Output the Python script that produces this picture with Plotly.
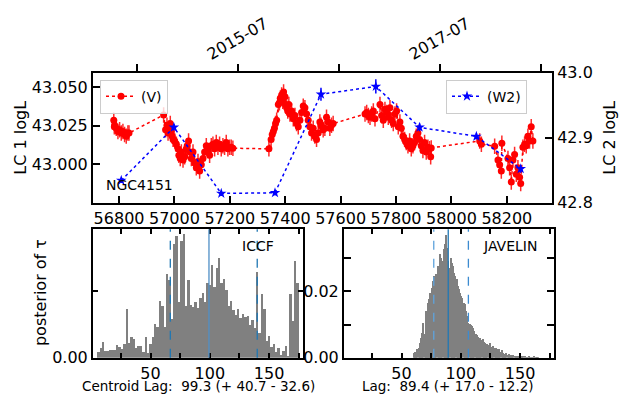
import plotly.graph_objects as go

# ---------------- data ----------------
v_mjd = [56781, 56783, 56784, 56790, 56796, 56802, 56808, 56814, 56820, 56826, 56832, 56836,
         56961, 56968, 56973, 56977, 56980, 56985, 56989, 56992, 56995, 57001, 57007, 57013, 57016, 57021,
         57025, 57031, 57037, 57043, 57046, 57051, 57055, 57061, 57067, 57073, 57079, 57085, 57091, 57097,
         57103, 57109, 57115, 57121, 57127, 57133, 57139, 57145, 57151, 57157, 57163, 57169, 57175, 57181,
         57187, 57193, 57199, 57205, 57211,
         57341, 57349, 57353, 57357, 57361, 57365, 57369, 57375, 57379, 57382, 57387, 57391, 57394, 57399,
         57401, 57405, 57409, 57413, 57417, 57423, 57429, 57435, 57441, 57447, 57453, 57459, 57465, 57471,
         57477, 57483, 57489, 57495, 57501, 57507, 57513, 57519, 57525, 57529, 57537, 57543, 57549, 57555,
         57561, 57567, 57573,
         57688, 57694, 57700, 57706, 57712, 57718, 57724, 57742, 57748, 57754, 57760, 57766, 57772, 57778,
         57784, 57790, 57796, 57802, 57808, 57814, 57819, 57825, 57831, 57837, 57843, 57849, 57855, 57861,
         57867, 57873, 57879, 57885, 57891, 57897, 57903, 57909, 57915, 57921, 57925, 57927,
         58102, 58108, 58156, 58168, 58174, 58180, 58182, 58204, 58210, 58216, 58222, 58228, 58234, 58240,
         58246, 58250, 58258, 58264, 58270, 58276, 58282, 58288, 58294]
v_logl = [43.0285, 43.0244, 43.0254, 43.0234, 43.0213, 43.0224, 43.0203, 43.0213, 43.0193, 43.0183, 43.0203, 43.0203,
          43.0320, 43.0224, 43.0254, 43.0203, 43.0234, 43.0264, 43.0213, 43.0183, 43.0162, 43.0152, 43.0131, 43.0101,
          43.0060, 43.0039, 43.0080, 43.0029, 43.0050, 43.0101, 43.0121, 43.0152, 43.0080, 43.0039, 43.0080, 43.0009,
          42.9978, 43.0019, 42.9957, 42.9998, 43.0039, 43.0080, 43.0121, 43.0090, 43.0060, 43.0121, 43.0131, 43.0101,
          43.0142, 43.0111, 43.0131, 43.0101, 43.0121, 43.0111, 43.0142, 43.0101, 43.0111, 43.0111, 43.0105,
          43.0101, 43.0162, 43.0193, 43.0213, 43.0234, 43.0264, 43.0285, 43.0387, 43.0398, 43.0428, 43.0449, 43.0408,
          43.0469, 43.0438, 43.0387, 43.0367, 43.0346, 43.0387, 43.0326, 43.0346, 43.0295, 43.0316, 43.0264, 43.0244,
          43.0285, 43.0336, 43.0377, 43.0367, 43.0326, 43.0285, 43.0244, 43.0203, 43.0234, 43.0183, 43.0162, 43.0203,
          43.0275, 43.0254, 43.0224, 43.0234, 43.0305, 43.0275, 43.0234, 43.0254, 43.0264,
          43.0326, 43.0336, 43.0316, 43.0305, 43.0326, 43.0346, 43.0295, 43.0387, 43.0316, 43.0285, 43.0356, 43.0336,
          43.0305, 43.0367, 43.0285, 43.0264, 43.0326, 43.0346, 43.0244, 43.0275, 43.0234, 43.0183, 43.0162, 43.0142,
          43.0121, 43.0152, 43.0101, 43.0121, 43.0142, 43.0183, 43.0203, 43.0162, 43.0121, 43.0090, 43.0142, 43.0080,
          43.0111, 43.0101, 43.0050, 43.0107,
          43.0152, 43.0131, 43.0117, 43.0029, 42.9998, 42.9957, 43.0137, 43.0039, 42.9978, 42.9886, 43.0029, 43.0064,
          42.9937, 42.9978, 42.9917, 42.9876, 43.0111, 43.0131, 43.0121, 43.0183, 43.0152, 43.0244, 43.0152]
v_err = 0.005

w2_mjd = [56808, 56998, 57169, 57363, 57529, 57727, 57885, 58090, 58250]
w2_logl = [42.834, 42.916, 42.814, 42.815, 42.967, 42.979, 42.916, 42.902, 42.852]
w2_err = [0.004, 0.005, 0.004, 0.004, 0.010, 0.011, 0.006, 0.005, 0.006]

mjd_ticks = [56800, 57000, 57200, 57400, 57600, 57800, 58000, 58200]
date_tick_mjd = [56866, 57229, 57594, 57958, 58322]
date_tick_labels = ["", "2015-07", "", "2017-07", ""]
lc1_ticks = [43.000, 43.025, 43.050]
lc2_ticks = [42.8, 42.9, 43.0]

iccf_bin_start = 5.0
iccf_bin_width = 2.0
iccf_density = [0.0018, 0.0030, 0.0046, 0.0020, 0.0020, 0.0023, 0.0023, 0.0023, 0.0037, 0.0032,
                0.0025, 0.0042, 0.0147, 0.0044, 0.0061, 0.0056, 0.0028, 0.0034, 0.0034, 0.0018,
                0.0063, 0.0013, 0.0040, 0.0063, 0.0102, 0.0091, 0.0170, 0.0156, 0.0091, 0.0251,
                0.0232, 0.0116, 0.0342, 0.0364, 0.0166, 0.0351, 0.0370, 0.0156, 0.0234, 0.0158,
                0.0151, 0.0166, 0.0149, 0.0180, 0.0194, 0.0166, 0.0223, 0.0218, 0.0278, 0.0213,
                0.0269, 0.0299, 0.0223, 0.0237, 0.0204, 0.0156, 0.0170, 0.0142, 0.0128, 0.0147,
                0.0118, 0.0132, 0.0123, 0.0126, 0.0099, 0.0113, 0.0090, 0.0256, 0.0075, 0.0190,
                0.0147, 0.0051, 0.0066, 0.0032, 0.0042, 0.0018, 0.0030, 0.0009, 0.0020, 0.0036,
                0.0006, 0.0190, 0.0109, 0.0290, 0.0223]

jav_bin_start = 60.0
jav_bin_width = 1.0
jav_density = [0.0015, 0.0018, 0.0012, 0.0025, 0.0030, 0.0045, 0.0060, 0.0075, 0.0105, 0.0070,
               0.0140, 0.0120, 0.0165, 0.0175, 0.0195, 0.0210, 0.0230, 0.0245, 0.0225, 0.0250,
               0.0275, 0.0265, 0.0310, 0.0300, 0.0290, 0.0325, 0.0340, 0.0368, 0.0330, 0.0290,
               0.0270, 0.0300, 0.0285, 0.0275, 0.0255, 0.0245, 0.0235, 0.0215, 0.0205, 0.0195,
               0.0185, 0.0180, 0.0165, 0.0160, 0.0140, 0.0125, 0.0105, 0.0100, 0.0098, 0.0095,
               0.0088, 0.0080, 0.0070, 0.0068, 0.0062, 0.0058, 0.0060, 0.0052, 0.0055, 0.0048,
               0.0045, 0.0042, 0.0040, 0.0038, 0.0045, 0.0033, 0.0030, 0.0035, 0.0028, 0.0030,
               0.0025, 0.0020, 0.0025, 0.0018, 0.0022, 0.0015, 0.0012, 0.0010, 0.0014, 0.0008,
               0.0010, 0.0006, 0.0009, 0.0005, 0.0007, 0.0004, 0.0006, 0.0003, 0.0005, 0.0004,
               0.0002, 0.0004, 0.0003, 0.0000, 0.0003, 0.0002, 0.0000, 0.0003, 0.0002, 0.0000,
               0.0002, 0.0003, 0.0000, 0.0002, 0.0001, 0.0002]

iccf_lag, iccf_plus, iccf_minus = 99.3, 40.7, 32.6
jav_lag, jav_plus, jav_minus = 89.4, 17.0, 12.2

lag_ticks = [25, 50, 75, 100, 125, 150, 175]
lag_ticktext = ["", "50", "", "100", "", "150", ""]

# ---------------- figure ----------------
FONT = "DejaVu Sans"
W, H = 625, 406

def px(x):
    return x / W

def py(y):
    return 1 - y / H

fig = go.Figure()

fig.add_trace(go.Scatter(
    x=v_mjd, y=v_logl, mode="lines+markers", name="(V)",
    line=dict(color="#ff0000", dash="dot", width=1.5),
    marker=dict(color="#ff0000", size=7, symbol="circle"),
    error_y=dict(type="constant", value=v_err, color="#ff2a2a", thickness=1.5, width=0),
    xaxis="x", yaxis="y", legend="legend"))

fig.add_trace(go.Scatter(
    x=[date_tick_mjd[0]], y=[lc1_ticks[0]], mode="markers", marker=dict(opacity=0),
    showlegend=False, hoverinfo="skip", xaxis="x2", yaxis="y"))

fig.add_trace(go.Scatter(
    x=w2_mjd, y=w2_logl, mode="lines+markers", name="(W2)",
    line=dict(color="#0000ff", dash="dot", width=1.5),
    marker=dict(color="#0000ff", size=8, symbol="star"),
    error_y=dict(type="data", array=w2_err, color="#0000ff", thickness=1.5, width=0),
    xaxis="x", yaxis="y2", legend="legend2"))

iccf_centers = [iccf_bin_start + (i + 0.5) * iccf_bin_width for i in range(len(iccf_density))]
jav_centers = [jav_bin_start + (i + 0.5) * jav_bin_width for i in range(len(jav_density))]

fig.add_trace(go.Bar(x=iccf_centers, y=iccf_density, width=iccf_bin_width,
                     marker=dict(color="#808080", line=dict(width=0)),
                     showlegend=False, xaxis="x3", yaxis="y3"))
fig.add_trace(go.Bar(x=jav_centers, y=jav_density, width=jav_bin_width,
                     marker=dict(color="#808080", line=dict(width=0)),
                     showlegend=False, xaxis="x4", yaxis="y4"))

# lag lines
lines = [
    ("x3", "y3", iccf_lag, "solid", "#4f8fc6"),
    ("x3", "y3", iccf_lag - iccf_minus, "dash", "#1f77b4"),
    ("x3", "y3", iccf_lag + iccf_plus, "dash", "#1f77b4"),
    ("x4", "y4", jav_lag, "solid", "#1f77b4"),
    ("x4", "y4", jav_lag - jav_minus, "dash", "#5fa3dc"),
    ("x4", "y4", jav_lag + jav_plus, "dash", "#3c8bd0"),
]
for xr, yr, v, dash, col in lines:
    fig.add_shape(type="line", xref=xr, yref=yr + " domain", x0=v, x1=v, y0=0, y1=1,
                  line=dict(color=col, width=1.3, dash=dash), layer="above")

axis_common = dict(showgrid=False, zeroline=False, showline=True, linecolor="black",
                   linewidth=2, tickcolor="black", tickwidth=1.5,
                   tickfont=dict(family=FONT, size=16, color="black"))

top_dom_x = [px(93), px(552)]
top_dom_y = [py(203), py(67)]
xr_top = [56706, 58363]

fig.update_layout(
    width=W, height=H, autosize=False,
    margin=dict(l=0, r=0, t=0, b=0),
    paper_bgcolor="white", plot_bgcolor="white",
    font=dict(family=FONT, color="black"),
    bargap=0,
    xaxis=dict(domain=top_dom_x, anchor="y", range=xr_top, tickmode="array",
               tickvals=mjd_ticks, ticktext=[str(t) for t in mjd_ticks],
               ticks="inside", ticklen=7, **axis_common),
    xaxis2=dict(overlaying="x", side="top", anchor="y", range=xr_top, tickmode="array",
                tickvals=date_tick_mjd, ticktext=["" for _ in date_tick_mjd],
                ticks="outside", ticklen=7, **axis_common),
    yaxis=dict(domain=top_dom_y, anchor="x", range=[42.9754, 43.0592], tickmode="array",
               tickvals=lc1_ticks, ticktext=["%.3f" % t for t in lc1_ticks],
               ticks="inside", ticklen=7, **axis_common),
    yaxis2=dict(overlaying="y", side="right", anchor="x", range=[42.8, 43.0], tickmode="array",
                tickvals=lc2_ticks, ticktext=["%.1f" % t for t in lc2_ticks],
                ticks="inside", ticklen=7, **axis_common),
    xaxis3=dict(domain=[px(93), px(303)], anchor="y3", range=[1.5, 178.6], tickmode="array",
                tickvals=lag_ticks, ticktext=lag_ticktext, ticks="inside", ticklen=5,
                mirror="ticks", **axis_common),
    yaxis3=dict(domain=[py(366), py(231)], anchor="x3", range=[0, 0.0386], tickmode="array",
                tickvals=[0, 0.02], ticktext=["0.00", ""], ticks="inside", ticklen=5,
                mirror="ticks", **axis_common),
    xaxis4=dict(domain=[px(344), px(554)], anchor="y4", range=[1.5, 178.6], tickmode="array",
                tickvals=lag_ticks, ticktext=lag_ticktext, ticks="inside", ticklen=5,
                mirror="ticks", **axis_common),
    yaxis4=dict(domain=[py(366), py(231)], anchor="x4", range=[0, 0.0386], tickmode="array",
                tickvals=[0, 0.01, 0.02, 0.03], ticktext=["0.00", "", "0.02", ""],
                ticks="inside", ticklen=7, mirror="ticks", **axis_common),
    legend=dict(x=px(100), y=py(74), xanchor="left", yanchor="top",
                bgcolor="rgba(255,255,255,0.8)", bordercolor="#cccccc", borderwidth=1,
                font=dict(family=FONT, size=14, color="black")),
    legend2=dict(x=px(446), y=py(74), xanchor="left", yanchor="top",
                 bgcolor="rgba(255,255,255,0.8)", bordercolor="#cccccc", borderwidth=1,
                 font=dict(family=FONT, size=14, color="black")),
)

ann = []
for v, lab in zip(date_tick_mjd, date_tick_labels):
    if lab:
        ann.append(dict(x=v, xref="x", y=py(31), yref="paper", text=lab, showarrow=False,
                        textangle=-30, xanchor="center", yanchor="middle",
                        font=dict(family=FONT, size=16, color="black")))

def txt(x, y, s, size, angle=0):
    return dict(x=px(x), y=py(y), xref="paper", yref="paper", text=s, showarrow=False,
                textangle=angle, xanchor="center", yanchor="middle",
                font=dict(family=FONT, size=size, color="black"))

ann += [
    txt(139, 185, "NGC4151", 14),
    txt(21, 135, "LC 1 logL", 16, -90),
    txt(610, 135, "LC 2 logL", 16, -90),
    txt(40, 298, "posterior of \u03c4", 16, -90),
    txt(258, 249, "ICCF", 14),
    txt(510, 249, "JAVELIN", 14),
    txt(198, 396, "Centroid Lag:  %.1f (+ %.1f - %.1f)" % (iccf_lag, iccf_plus, iccf_minus), 13.5),
    txt(448, 396, "Lag:  %.1f (+ %.1f - %.1f)" % (jav_lag, jav_plus, jav_minus), 13.5),
]
fig.update_layout(annotations=ann)

post = (
    "document.documentElement.style.margin='0';"
    "document.documentElement.style.overflow='hidden';"
    "document.body.style.margin='0';document.body.style.padding='0';"
    "document.body.style.height='406px';document.body.style.overflow='hidden';"
    "var g=document.querySelector('.plotly-graph-div');"
    "g.style.position='absolute';g.style.left='0px';g.style.top='0px';"
)

fig.write_html("out.html", config={"displayModeBar": False}, post_script=post)
